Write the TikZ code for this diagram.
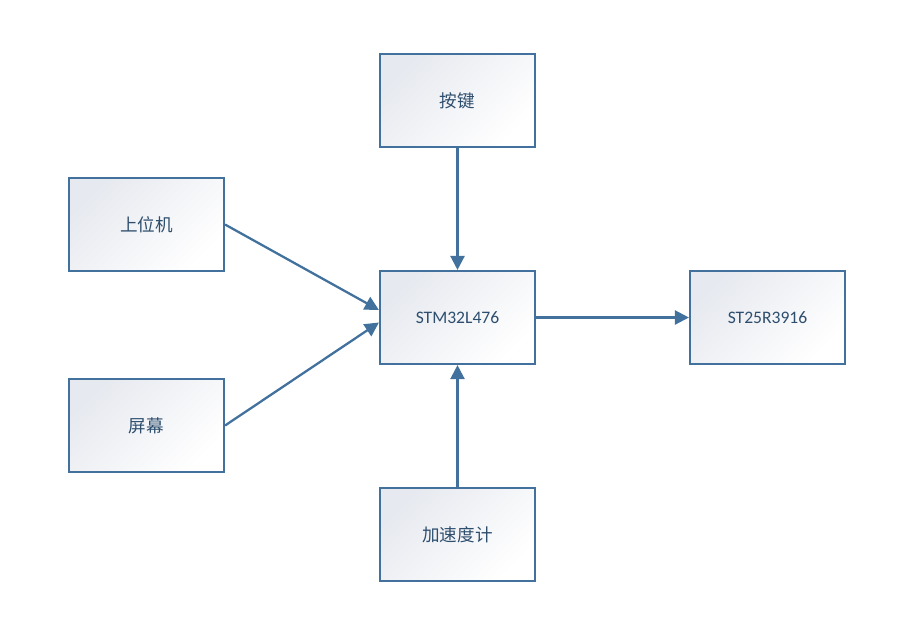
\documentclass[tikz,border=0pt]{standalone}
\usepackage{fontspec}
\setmainfont{Carlito}
\newfontfamily\cjk{Noto Sans CJK SC}
\usetikzlibrary{arrows.meta}

\definecolor{edgeblue}{HTML}{41719C}
\definecolor{textblue}{HTML}{2E4E6E}
\definecolor{shadegray}{HTML}{E6E9EF}

\begin{document}
\begin{tikzpicture}[
    block/.style={draw=edgeblue, line width=1.2pt, minimum width=3.1cm, minimum height=1.86cm,
        shading=axis, top color=shadegray, bottom color=white, shading angle=45,
        text=textblue, font=\fontsize{10pt}{12pt}\selectfont},
    link/.style={draw=edgeblue, line width=1.3pt, -{Triangle[length=8pt,width=8pt]}}
]
    \useasboundingbox (0,0) rectangle (18.22,-12.66);

    \node[block] (key)    at (9.15,-2.01)  {\cjk 按键};
    \node[block] (host)   at (2.93,-4.49)  {\cjk 上位机};
    \node[block] (mcu)    at (9.15,-6.35)  {STM32L476};
    \node[block] (nfc)    at (15.35,-6.35) {ST25R3916};
    \node[block] (screen) at (2.93,-8.51)  {\cjk 屏幕};
    \node[block] (accel)  at (9.15,-10.69) {\cjk 加速度计};

    \draw[link] (key.south) -- (mcu.north);
    \draw[link] (accel.north) -- (mcu.south);
    \draw[link] (mcu.east) -- (nfc.west);
    \draw[link] (host.east) -- ([yshift=0.15cm]mcu.west);
    \draw[link] (screen.east) -- ([yshift=-0.1cm]mcu.west);
\end{tikzpicture}
\end{document}
